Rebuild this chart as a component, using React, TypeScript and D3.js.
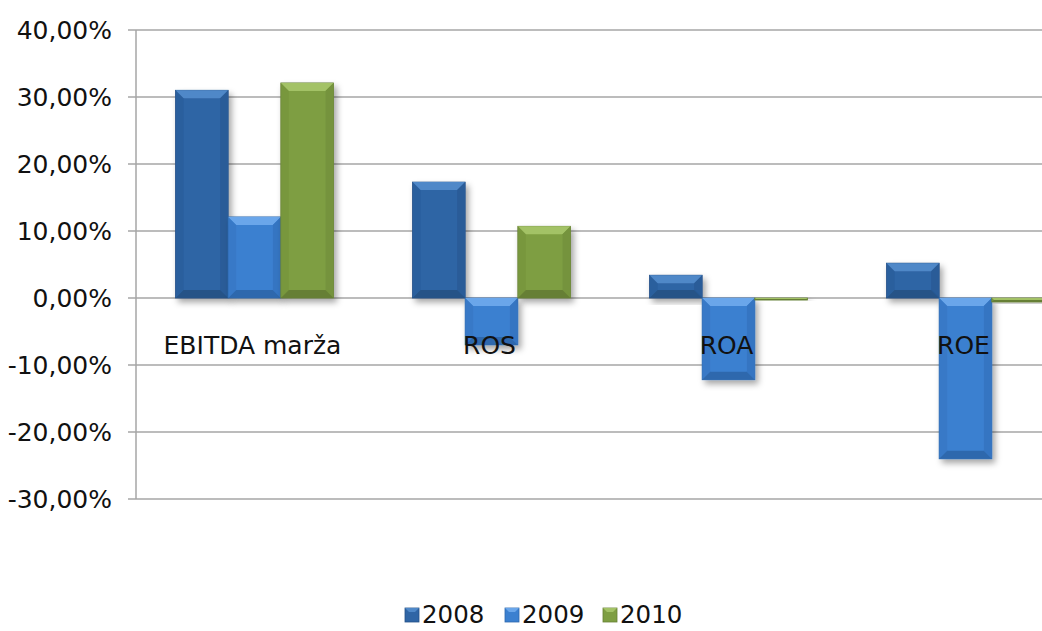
import React, { useEffect } from "react";
import * as d3 from "d3";

const WIDTH = 1042;
const HEIGHT = 631;

const categories = ["EBITDA marža", "ROS", "ROA", "ROE"];
const years = ["2008", "2009", "2010"];
const values2008 = [0.310, 0.173, 0.034, 0.052];
const values2009 = [0.121, -0.070, -0.122, -0.240];
const values2010 = [0.321, 0.107, -0.003, -0.006];
const yTicks = [0.4, 0.3, 0.2, 0.1, 0, -0.1, -0.2, -0.3];

const seriesValues = [values2008, values2009, values2010];

const palette: Record<string, { base: string; top: string; side: string; bottom: string }> = {
  "2008": { base: "#2f65a5", top: "#4f88c8", side: "#2a5c98", bottom: "#255287" },
  "2009": { base: "#3b80d0", top: "#6aa6ea", side: "#3575c2", bottom: "#2e68ad" },
  "2010": { base: "#7e9e42", top: "#a3c266", side: "#74933c", bottom: "#667f35" },
};

const AXIS_X = 136;
const CAT_W = 237;

const x = d3.scaleBand<string>()
  .domain(categories)
  .range([AXIS_X, AXIS_X + CAT_W * categories.length])
  .paddingInner(0)
  .paddingOuter(0);

const xInner = d3.scaleBand<string>()
  .domain(years)
  .range([39.5, CAT_W - 39.5]);

const y = d3.scaleLinear().domain([-0.3, 0.4]).range([499, 30]);

const fmt = (v: number) => (v * 100).toFixed(2).replace(".", ",") + "%";

function Bar({ x0, w, v, year }: { x0: number; w: number; v: number; year: string }) {
  const c = palette[year];
  const y0 = y(Math.max(0, v));
  const y1 = y(Math.min(0, v));
  const h = Math.max(2, y1 - y0);
  const b = Math.min(8, h / 2, w / 4);
  const x1 = x0 + w;
  const yb = y0 + h;
  return (
    <g filter="url(#shadow)">
      <rect x={x0} y={y0} width={w} height={h} fill={c.base} stroke={c.bottom} strokeWidth={0.8} />
      <polygon points={`${x0},${y0} ${x1},${y0} ${x1 - b},${y0 + b} ${x0 + b},${y0 + b}`} fill={c.top} />
      <polygon points={`${x0},${y0} ${x0 + b},${y0 + b} ${x0 + b},${yb - b} ${x0},${yb}`} fill={c.side} opacity={0.6} />
      <polygon points={`${x1},${y0} ${x1 - b},${y0 + b} ${x1 - b},${yb - b} ${x1},${yb}`} fill={c.side} />
      <polygon points={`${x0},${yb} ${x0 + b},${yb - b} ${x1 - b},${yb - b} ${x1},${yb}`} fill={c.bottom} />
    </g>
  );
}

export default function App() {
  useEffect(() => {
    document.body.style.margin = "0";
  }, []);

  const font = "'DejaVu Sans', Verdana, sans-serif";

  return (
    <svg width={WIDTH} height={HEIGHT} style={{ display: "block", background: "#fff" }} fontFamily={font}>
      <defs>
        <filter id="shadow" x="-20%" y="-20%" width="150%" height="150%">
          <feDropShadow dx={3} dy={4} stdDeviation={3} floodColor="#000" floodOpacity={0.35} />
        </filter>
      </defs>

      {/* gridlines */}
      {yTicks.map((t) => (
        <g key={t}>
          <line x1={AXIS_X - 8} x2={WIDTH} y1={y(t)} y2={y(t)} stroke="#a6a6a6" strokeWidth={1.5} />
          <text x={112} y={y(t) + 9} textAnchor="end" fontSize={25} fill="#111">
            {fmt(t)}
          </text>
        </g>
      ))}
      <line x1={AXIS_X} x2={AXIS_X} y1={y(0.4)} y2={y(-0.3)} stroke="#a6a6a6" strokeWidth={1.5} />

      {/* bars */}
      {categories.map((cat, ci) => (
        <g key={cat}>
          {years.map((yr, si) => (
            <Bar
              key={yr}
              x0={(x(cat) as number) + (xInner(yr) as number)}
              w={xInner.bandwidth()}
              v={seriesValues[si][ci]}
              year={yr}
            />
          ))}
        </g>
      ))}

      {/* category labels */}
      {categories.map((cat) => (
        <text
          key={cat}
          x={(x(cat) as number) + x.bandwidth() / 2 - 2}
          y={354}
          textAnchor="middle"
          fontSize={25}
          fill="#111"
        >
          {cat}
        </text>
      ))}

      {/* legend */}
      {years.map((yr, i) => {
        const lx = [405, 505, 603][i];
        const c = palette[yr];
        return (
          <g key={yr}>
            <rect x={lx} y={608} width={14} height={14} fill={c.base} stroke={c.bottom} strokeWidth={0.8} />
            <polygon points={`${lx},608 ${lx + 14},608 ${lx + 10},612 ${lx + 4},612`} fill={c.top} />
            <text x={lx + 17} y={623} fontSize={24.5} fill="#111">
              {yr}
            </text>
          </g>
        );
      })}
    </svg>
  );
}
